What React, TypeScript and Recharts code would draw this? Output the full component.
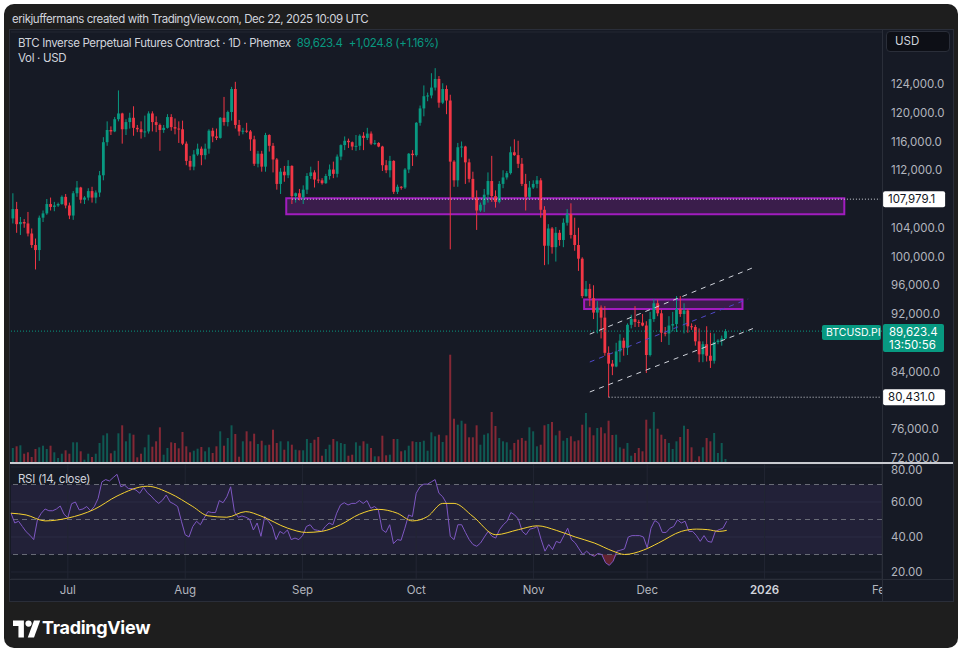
import React from "react";
import {
  ComposedChart,
  Bar,
  Line,
  Area,
  XAxis,
  YAxis,
  CartesianGrid,
  ReferenceLine,
  ReferenceArea,
  Cell,
} from "recharts";

// daily candles, slot 0 = 16 Jun 2025, last candle 22 Dec 2025; axis runs on to 1 Feb 2026
const SLOTS = 231;

const opens = [
  105300, 106600, 104500, 104800, 104600, 103200, 101600, 100900, 105400, 106000,
  107300, 106900, 107100, 107300, 108300, 107100, 105700, 108800, 109600, 107900,
  108200, 109100, 108200, 108900, 111300, 115900, 117600, 117400, 119100, 119900,
  117700, 118700, 119300, 117900, 117700, 117300, 117400, 119900, 118700, 118300,
  117600, 117900, 119400, 118000, 117800, 117700, 115700, 113300, 112500, 114200,
  115000, 114100, 115000, 117500, 116700, 116500, 119300, 118700, 120100, 123300,
  118300, 117400, 117500, 117400, 116300, 112900, 114300, 112500, 116900, 115400,
  113500, 110100, 111800, 111300, 112600, 108400, 108800, 108200, 109300, 111200,
  111700, 110700, 110600, 110200, 111200, 112100, 111500, 113900, 115500, 116100,
  115900, 115300, 115400, 116800, 116500, 117100, 115700, 115800, 115300, 112700,
  112000, 113300, 109000, 109700, 109600, 112100, 114300, 114100, 118600, 120600,
  122300, 122400, 123500, 124700, 121400, 123300, 121700, 113200, 110600, 115200,
  115300, 113100, 110800, 108200, 106400, 107200, 108600, 110500, 108400, 107600,
  110100, 111000, 111600, 114500, 114100, 112900, 110100, 108300, 109600, 110100,
  110600, 106500, 101500, 103900, 101300, 103300, 102300, 104700, 105900, 103000,
  101600, 99700, 94500, 95500, 94200, 92200, 92900, 91500, 86600, 85100,
  84700, 86800, 88300, 87300, 90500, 91300, 90900, 90800, 90400, 86300,
  91300, 93500, 92100, 89400, 89300, 90400, 90600, 92700, 92000, 92500,
  90300, 90200, 88200, 86400, 87800, 86200, 85500, 88100, 88300, 88600,
];

const highs = [
  108800, 107600, 105500, 105200, 106200, 103900, 102500, 105700, 106400, 108000,
  108200, 107600, 107500, 108500, 108700, 107500, 109100, 110500, 109700, 108400,
  109500, 109700, 109200, 111900, 116600, 118800, 118100, 119400, 123100, 120000,
  119100, 120000, 120900, 118300, 118800, 119600, 120200, 120200, 119500, 118500,
  118300, 119800, 119800, 119200, 118800, 118900, 116000, 114000, 114800, 115700,
  115300, 115700, 117700, 117900, 117800, 119400, 122200, 120300, 123600, 124300,
  119000, 117900, 118600, 117600, 116800, 114700, 114700, 117200, 117000, 115800,
  113700, 112300, 112600, 113400, 112700, 108900, 109400, 109900, 111600, 112500,
  112000, 113300, 110900, 111500, 112800, 113200, 114200, 115600, 116700, 116400,
  116000, 116900, 117000, 117300, 117900, 117400, 116200, 115900, 115400, 113400,
  114000, 113400, 110000, 109800, 112300, 114400, 114800, 118700, 121000, 123800,
  122800, 125500, 126200, 125100, 124100, 123800, 122500, 113400, 115800, 116000,
  115400, 113600, 111800, 109200, 107500, 109400, 111700, 114000, 109200, 110500,
  112000, 111900, 115300, 116300, 116100, 113700, 111500, 110500, 110600, 111200,
  110900, 107000, 104500, 104100, 104100, 103700, 105300, 106600, 107400, 105400,
  104000, 99900, 96600, 96200, 96000, 93800, 93200, 93100, 87500, 85600,
  88000, 89200, 88700, 90700, 91900, 93100, 91200, 92000, 91000, 92300,
  94100, 94000, 92600, 90200, 91700, 92300, 94500, 94500, 93500, 92700,
  90700, 90500, 90000, 88200, 90300, 89400, 89300, 88500, 89000, 89900,
];

const lows = [
  104600, 103300, 103000, 104000, 102800, 101200, 98200, 99400, 104800, 105800,
  106400, 106300, 106900, 107200, 106700, 105200, 105100, 108300, 107400, 107300,
  107800, 107500, 107400, 108300, 110600, 115400, 116900, 117300, 118800, 115700,
  116900, 117800, 116800, 117300, 116400, 116600, 117100, 117400, 117300, 114700,
  117200, 117800, 117500, 117000, 115800, 115500, 112700, 112000, 112000, 114000,
  112700, 113500, 114300, 115900, 116200, 116400, 118200, 118100, 118900, 117800,
  116800, 117000, 117200, 114700, 112600, 112400, 111800, 111800, 114600, 111700,
  109300, 108700, 110400, 110900, 107300, 107500, 107800, 107300, 108700, 110800,
  109600, 110200, 110000, 110100, 110700, 110900, 111000, 113400, 114800, 115100,
  114800, 114700, 114800, 114800, 116200, 115500, 115500, 115200, 111900, 111600,
  111000, 108700, 108700, 109300, 109400, 111600, 112600, 113900, 118200, 119500,
  121600, 122000, 123100, 120700, 121200, 119800, 101000, 109700, 109700, 113800,
  110100, 110300, 107900, 103700, 106200, 106200, 107500, 107600, 106800, 107400,
  109500, 110700, 111400, 114000, 112300, 109800, 106400, 108000, 109400, 109500,
  105400, 98800, 98900, 100400, 99300, 101500, 101300, 104300, 102500, 100800,
  98000, 94200, 94400, 93100, 91300, 89300, 88600, 86200, 80431, 83500,
  84600, 85300, 86200, 86300, 90000, 90200, 90200, 90300, 83800, 86100,
  90900, 91700, 88100, 88900, 87700, 89600, 89500, 91600, 89300, 89400,
  89800, 87600, 85300, 85300, 85400, 84500, 85100, 87800, 87600, 88500,
];

const closes = [
  106600, 104500, 104800, 104600, 103200, 101600, 100900, 105400, 106000, 107300,
  106900, 107100, 107300, 108300, 107100, 105700, 108800, 109600, 107900, 108200,
  109100, 108200, 108900, 111300, 115900, 117600, 117400, 119100, 119900, 117700,
  118700, 119300, 117900, 117700, 117300, 117400, 119900, 118700, 118300, 117600,
  117900, 119400, 118000, 117800, 117700, 115700, 113300, 112500, 114200, 115000,
  114100, 115000, 117500, 116700, 116500, 119300, 118700, 120100, 123300, 118300,
  117400, 117500, 117400, 116300, 112900, 114300, 112500, 116900, 115400, 113500,
  110100, 111800, 111300, 112600, 108400, 108800, 108200, 109300, 111200, 111700,
  110700, 110600, 110200, 111200, 112100, 111500, 113900, 115500, 116100, 115900,
  115300, 115400, 116800, 116500, 117100, 115700, 115800, 115300, 112700, 112000,
  113300, 109000, 109700, 109600, 112100, 114300, 114100, 118600, 120600, 122300,
  122400, 123500, 124700, 121400, 123300, 121700, 113200, 110600, 115200, 115300,
  113100, 110800, 108200, 106400, 107200, 108600, 110500, 108400, 107600, 110100,
  111000, 111600, 114500, 114100, 112900, 110100, 108300, 109600, 110100, 110600,
  106500, 101500, 103900, 101300, 103300, 102300, 104700, 105900, 103000, 101600,
  99700, 94500, 95500, 94200, 92200, 92900, 91500, 86600, 85100, 84700,
  86800, 88300, 87300, 90500, 91300, 90900, 90800, 90400, 86300, 91300,
  93500, 92100, 89400, 89300, 90400, 90600, 92700, 92000, 92500, 90300,
  90200, 88200, 86400, 87800, 86200, 85500, 88100, 88300, 88600, 89623.4,
];

// volume, millions USD
const volumes = [
  150, 167, 177, 93, 107, 60, 140, 157, 173, 140,
  173, 107, 50, 93, 127, 93, 207, 207, 117, 33,
  93, 60, 93, 200, 277, 297, 97, 123, 297, 377,
  217, 297, 283, 57, 93, 157, 283, 163, 217, 357,
  83, 150, 207, 200, 147, 310, 167, 107, 123, 143,
  160, 117, 157, 100, 167, 317, 173, 250, 377, 290,
  63, 217, 317, 217, 293, 190, 223, 177, 183, 333,
  200, 217, 133, 217, 183, 133, 127, 127, 240, 200,
  233, 260, 73, 140, 183, 240, 217, 200, 190, 73,
  83, 207, 173, 217, 193, 150, 67, 67, 273, 77,
  83, 240, 240, 117, 127, 173, 217, 210, 210, 223,
  123, 307, 267, 283, 210, 277, 1083, 443, 383, 423,
  393, 257, 257, 377, 183, 283, 297, 510, 370, 250,
  217, 207, 133, 200, 233, 250, 223, 357, 317, 167,
  183, 377, 390, 410, 277, 323, 223, 250, 267, 217,
  227, 383, 500, 357, 277, 350, 357, 297, 423, 280,
  283, 157, 143, 200, 73, 100, 150, 117, 433, 343,
  510, 343, 283, 240, 200, 140, 217, 260, 373, 340,
  157, 23, 67, 157, 250, 217, 300, 100, 200, 40,
];

const rsiValues = [
  53.6, 48, 49, 46, 43, 41, 38.5, 50, 53.6, 56,
  55, 55, 56, 57.7, 53, 51, 59, 60, 55.5, 56,
  57.4, 55, 57.4, 62, 71.5, 72.8, 72, 74, 75.8, 68.7,
  69.6, 67.7, 67.7, 66.8, 65, 68.3, 65.3, 63.4, 61, 59.2,
  61, 64, 60, 58.9, 57.4, 49, 41.3, 40, 46, 49,
  47, 50.8, 54.5, 54, 54, 60.8, 59.6, 63, 68.7, 54.5,
  51.3, 52, 51.3, 50.2, 44, 48, 40.4, 51.7, 49, 46,
  38.5, 43.2, 41.9, 44, 38.5, 39.4, 38.5, 40.8, 46, 47,
  44.2, 43.8, 43.2, 46, 48, 47, 53.6, 58.3, 59.6, 58.3,
  59.2, 59.2, 60.8, 59.2, 60.8, 56.4, 57.4, 55.5, 44.2, 42.6,
  47, 36.2, 38.5, 38.1, 45, 52.6, 51.7, 65, 68.7, 70.2,
  70.2, 71.5, 72.8, 65, 63, 59.2, 40.4, 38.5, 47, 47,
  42.6, 38.5, 35.7, 34.7, 36.6, 40, 43.2, 40.4, 39.4, 44.2,
  47, 49, 54, 52.6, 50.2, 43.2, 41.3, 44.5, 45, 46,
  38.5, 31.9, 35.7, 32.8, 37.5, 36.6, 40.8, 45, 38.5, 36.6,
  33.2, 30, 31.9, 30, 29, 30.6, 30, 25.3, 23.8, 26.2,
  31.9, 32.5, 33.2, 40, 40.8, 40.8, 40.8, 40, 33.8, 45,
  49.4, 48, 42.6, 42.6, 45, 46, 49.8, 48, 49, 43.2,
  43.2, 40.8, 37.5, 40.8, 37.5, 37, 43.2, 44.2, 45, 49,
];

// RSI-based MA, read at these candles
const rsiMaDays = [0, 4, 9, 15, 22, 28, 36, 42, 48, 52, 57, 62, 66, 73, 78, 82, 87, 92, 97, 102, 106, 110, 114, 117, 122, 128, 134, 139, 144, 149, 154, 159, 162, 167, 171, 177, 181, 184, 187, 189];
const rsiMaValues = [53.6, 52.6, 49.2, 50.8, 55.8, 63.4, 69, 64.9, 57.4, 52.1, 51.3, 54.5, 52, 45.1, 42.6, 43.2, 47, 53, 55.8, 53.6, 49.2, 51.7, 59.2, 59.2, 51.7, 41.3, 44.2, 46.4, 43.8, 40, 36.6, 31.9, 30, 32.5, 36.6, 43.2, 44.5, 44.2, 43.2, 43.8];

const monthTicks = [15, 46, 77, 107, 138, 168, 199, 230];
const monthNames = ["Jul", "Aug", "Sep", "Oct", "Nov", "Dec", "2026", "Feb"];
const priceGrid = [72000, 76000, 80000, 84000, 88000, 92000, 96000, 100000, 104000, 108000, 112000, 116000, 120000, 124000, 128000];
const priceLabels = [72000, 76000, 84000, 92000, 96000, 100000, 104000, 112000, 116000, 120000, 124000];
const rsiTicks = [20, 40, 60, 80];

const lastPrice = 89623.4;
const resistance = 107979.1;
const resistanceFrom = 74;
const swingLow = 80431;
const swingLowFrom = 158;
const upperZone = [73, 220, 105875, 108100];
const lowerZone = [152, 193, 92700, 94020];
const channelTop = [153, 89200, 197, 98600];
const channelMid = [153, 85330, 195, 94100];
const channelBottom = [153, 81160, 197, 90130];

const FONT = "Inter, 'Noto Sans', sans-serif";
const CARD = "#1e1e1e";
const PANE = "#161a25";
const GRID = "#222633";
const EDGE = "#2a2e39";
const TEXT = "#b2b5be";
const GREEN = "#089981";
const RED = "#f23645";
const ZONE = "#a11cbf";

const fmtPrice = (v: number) =>
  v.toLocaleString("en-US", { minimumFractionDigits: 1, maximumFractionDigits: 1 });

const rows = Array.from({ length: SLOTS }, (_, i) => {
  const has = i < closes.length;
  return {
    i,
    range: has ? [lows[i], highs[i]] : null,
    open: has ? opens[i] : null,
    close: has ? closes[i] : null,
    high: has ? highs[i] : null,
    low: has ? lows[i] : null,
    volume: has ? volumes[i] : null,
    rsi: has ? rsiValues[i] : null,
    oversold: has ? [Math.min(rsiValues[i], 30), 30] : null,
    rsiMa: rsiMaDays.includes(i) ? rsiMaValues[rsiMaDays.indexOf(i)] : null,
  };
});

function Candle(props: any) {
  const { x, y, width, height, payload } = props;
  if (!payload || payload.open == null) return null;
  const { open, close, high, low } = payload;
  const color = close >= open ? GREEN : RED;
  const yOf = (v: number) => y + ((high - v) / (high - low || 1)) * height;
  const cx = x + width / 2;
  const top = yOf(Math.max(open, close));
  const bottom = yOf(Math.min(open, close));
  return (
    <g>
      <line x1={cx} x2={cx} y1={y} y2={y + height} stroke={color} strokeWidth={1} />
      <rect x={cx - 1.4} y={top} width={2.8} height={Math.max(bottom - top, 1)} fill={color} />
    </g>
  );
}

const whiteTag = (text: string) => (p: any) => {
  const { x, y, width } = p.viewBox;
  const left = x + width + 3;
  return (
    <g>
      <rect x={left} y={y - 8} width={62} height={16} rx={2} fill="#ffffff" />
      <text x={left + 5} y={y + 4} fontSize={11.5} fill="#131722" fontFamily={FONT}>{text}</text>
    </g>
  );
};

const lastTag = (p: any) => {
  const { x, y, width } = p.viewBox;
  const right = x + width;
  return (
    <g fontFamily={FONT}>
      <rect x={right - 60} y={y - 6} width={59} height={15} rx={2} fill={GREEN} />
      <text x={right - 56} y={y + 5} fontSize={10.5} fill="#ffffff">BTCUSD.PI</text>
      <rect x={right + 1} y={y - 7} width={61} height={28} rx={2} fill={GREEN} />
      <text x={right + 7} y={y + 5} fontSize={11.5} fill="#ffffff">{fmtPrice(lastPrice)}</text>
      <text x={right + 7} y={y + 18} fontSize={11.5} fill="#ffffff">13:50:56</text>
    </g>
  );
};

function MonthTick(props: any) {
  const { x, y, payload } = props;
  const label = monthNames[monthTicks.indexOf(payload.value)];
  const year = label === "2026";
  return (
    <text x={x} y={y + 13} textAnchor="middle" fontSize={11.5} fontFamily={FONT} fill={year ? "#d1d4dc" : TEXT} fontWeight={year ? 600 : 400}>
      {label}
    </text>
  );
}

const MARGIN = { top: 2, right: 0, bottom: 1, left: 1 };
const PRICE_DOMAIN = [71280, 131230];
const axisTick = { fill: TEXT, fontSize: 11.5, fontFamily: FONT, textAnchor: "start" };

export default function App() {
  return (
    <div style={{ position: "absolute", left: 0, top: 0, width: 963, height: 656, background: "#ffffff", fontFamily: FONT, overflow: "hidden" }}>
      <div style={{ position: "absolute", left: 4, top: 4, width: 954, height: 644, background: CARD, borderRadius: 10 }} />
      <div style={{ position: "absolute", left: 12, top: 12, fontSize: 11.5, color: "#d1d4dc", whiteSpace: "nowrap", letterSpacing: -0.45 }}>
        erikjuffermans created with TradingView.com, Dec 22, 2025 10:09 UTC
      </div>
      <div style={{ position: "absolute", left: 10, top: 30, width: 943, height: 571, background: PANE, outline: `1px solid ${EDGE}` }} />

      {/* volume + grid underneath */}
      <div style={{ position: "absolute", left: 10, top: 30 }}>
        <ComposedChart width={943} height={434} data={rows} margin={MARGIN} barCategoryGap="22%">
          <XAxis dataKey="i" hide />
          <YAxis yAxisId="price" orientation="right" width={71} domain={PRICE_DOMAIN} ticks={priceGrid} tick={false} axisLine={false} tickLine={false} />
          <YAxis yAxisId="vol" hide domain={[0, 4310]} />
          <CartesianGrid yAxisId="price" vertical={false} stroke={GRID} />
          {monthTicks.map((t) => (
            <ReferenceLine key={t} x={t} yAxisId="price" stroke={GRID} />
          ))}
          <Bar dataKey="volume" yAxisId="vol" isAnimationActive={false}>
            {rows.map((r) => (
              <Cell key={r.i} fill={r.close != null && r.close >= (r.open ?? 0) ? GREEN : RED} fillOpacity={0.5} />
            ))}
          </Bar>
        </ComposedChart>
      </div>

      {/* candles and drawings */}
      <div style={{ position: "absolute", left: 10, top: 30 }}>
        <ComposedChart width={943} height={434} data={rows} margin={MARGIN}>
          <XAxis dataKey="i" hide />
          <YAxis
            orientation="right"
            width={71}
            domain={PRICE_DOMAIN}
            ticks={priceLabels}
            tickFormatter={fmtPrice}
            axisLine={false}
            tickLine={false}
            tickSize={0}
            tickMargin={9}
            tick={axisTick}
          />
          <Bar dataKey="range" shape={<Candle />} isAnimationActive={false} />
          <ReferenceArea x1={upperZone[0]} x2={upperZone[1]} y1={upperZone[2]} y2={upperZone[3]} fill="#9c27b0" fillOpacity={0.28} stroke={ZONE} strokeWidth={2} ifOverflow="visible" />
          <ReferenceArea x1={lowerZone[0]} x2={lowerZone[1]} y1={lowerZone[2]} y2={lowerZone[3]} fill="#9c27b0" fillOpacity={0.28} stroke={ZONE} strokeWidth={2} ifOverflow="visible" />
          <ReferenceLine
            segment={[{ x: resistanceFrom, y: resistance }, { x: SLOTS - 1, y: resistance }]}
            stroke="#d1d4dc"
            strokeDasharray="1 2"
            label={whiteTag(fmtPrice(resistance))}
          />
          <ReferenceLine
            segment={[{ x: swingLowFrom, y: swingLow }, { x: SLOTS - 1, y: swingLow }]}
            stroke="#d1d4dc"
            strokeDasharray="1 2"
            label={whiteTag(fmtPrice(swingLow))}
          />
          <ReferenceLine y={lastPrice} stroke={GREEN} strokeDasharray="1 2" label={lastTag} />
          <ReferenceLine segment={[{ x: channelTop[0], y: channelTop[1] }, { x: channelTop[2], y: channelTop[3] }]} stroke="#d1d4dc" strokeDasharray="5 5" />
          <ReferenceLine segment={[{ x: channelMid[0], y: channelMid[1] }, { x: channelMid[2], y: channelMid[3] }]} stroke="#5048c8" strokeDasharray="5 5" />
          <ReferenceLine segment={[{ x: channelBottom[0], y: channelBottom[1] }, { x: channelBottom[2], y: channelBottom[3] }]} stroke="#d1d4dc" strokeDasharray="5 5" />
        </ComposedChart>
      </div>

      {/* RSI pane */}
      <div style={{ position: "absolute", left: 10, top: 464 }}>
        <ComposedChart width={943} height={137} data={rows} margin={{ top: 0, right: 0, bottom: 0, left: 1 }}>
          <XAxis dataKey="i" ticks={monthTicks} interval={0} height={22} axisLine={false} tickLine={false} tickSize={0} tick={<MonthTick />} />
          <YAxis
            orientation="right"
            width={71}
            domain={[16, 81.71]}
            ticks={rsiTicks}
            tickFormatter={(v: number) => v.toFixed(2)}
            axisLine={false}
            tickLine={false}
            tickSize={0}
            tickMargin={9}
            tick={axisTick}
          />
          <CartesianGrid vertical={false} stroke={GRID} />
          {monthTicks.map((t) => (
            <ReferenceLine key={t} x={t} stroke={GRID} />
          ))}
          <ReferenceArea y1={30} y2={70} fill="#7e57c2" fillOpacity={0.12} stroke="none" />
          <ReferenceLine y={70} stroke="#6a6d78" strokeDasharray="5 4" />
          <ReferenceLine y={50} stroke="#6a6d78" strokeDasharray="5 4" />
          <ReferenceLine y={30} stroke="#6a6d78" strokeDasharray="5 4" />
          <Area dataKey="oversold" stroke="none" fill={RED} fillOpacity={0.35} isAnimationActive={false} />
          <Line dataKey="rsi" stroke="#7e57c2" strokeWidth={1} dot={false} isAnimationActive={false} />
          <Line dataKey="rsiMa" stroke="#f5d130" strokeWidth={1} dot={false} connectNulls type="monotone" isAnimationActive={false} />
        </ComposedChart>
      </div>

      {/* axis frames */}
      <div style={{ position: "absolute", left: 882, top: 30, width: 1, height: 571, background: EDGE }} />
      <div style={{ position: "absolute", left: 10, top: 579, width: 943, height: 1, background: EDGE }} />
      <div style={{ position: "absolute", left: 10, top: 462, width: 943, height: 1.5, background: "#c9cbd1" }} />
      <div style={{ position: "absolute", left: 883, top: 580, width: 70, height: 21, background: PANE }} />
      <div style={{ position: "absolute", left: 886, top: 31, width: 64, height: 21, background: "#0d0f16", border: `1px solid ${EDGE}`, borderRadius: 4, boxSizing: "border-box", color: "#d1d4dc", fontSize: 11.5, lineHeight: "19px", paddingLeft: 8 }}>
        USD
      </div>

      {/* legend */}
      <div style={{ position: "absolute", left: 18, top: 36, fontSize: 11.5, color: "#d1d4dc", whiteSpace: "nowrap", letterSpacing: -0.35 }}>
        BTC Inverse Perpetual Futures Contract · 1D · Phemex
        <span style={{ color: GREEN, marginLeft: 6 }}>89,623.4</span>
        <span style={{ color: GREEN, marginLeft: 6 }}>+1,024.8 (+1.16%)</span>
      </div>
      <div style={{ position: "absolute", left: 18, top: 51, fontSize: 11.5, color: "#d1d4dc", letterSpacing: -0.3 }}>Vol · USD</div>
      <div style={{ position: "absolute", left: 18, top: 472, fontSize: 11.5, color: "#d1d4dc", letterSpacing: -0.3 }}>RSI (14, close)</div>

      {/* footer */}
      <svg style={{ position: "absolute", left: 13, top: 620 }} width={28} height={18} viewBox="0 0 36 22">
        <path d="M0 0h14v22H7V7H0z" fill="#ffffff" />
        <circle cx={20} cy={4} r={4} fill="#ffffff" />
        <path d="M19 22L27 0h8l-8 22z" fill="#ffffff" />
      </svg>
      <div style={{ position: "absolute", left: 42, top: 617, fontSize: 18, fontWeight: 700, color: "#ffffff", letterSpacing: -0.3 }}>
        TradingView
      </div>
    </div>
  );
}
